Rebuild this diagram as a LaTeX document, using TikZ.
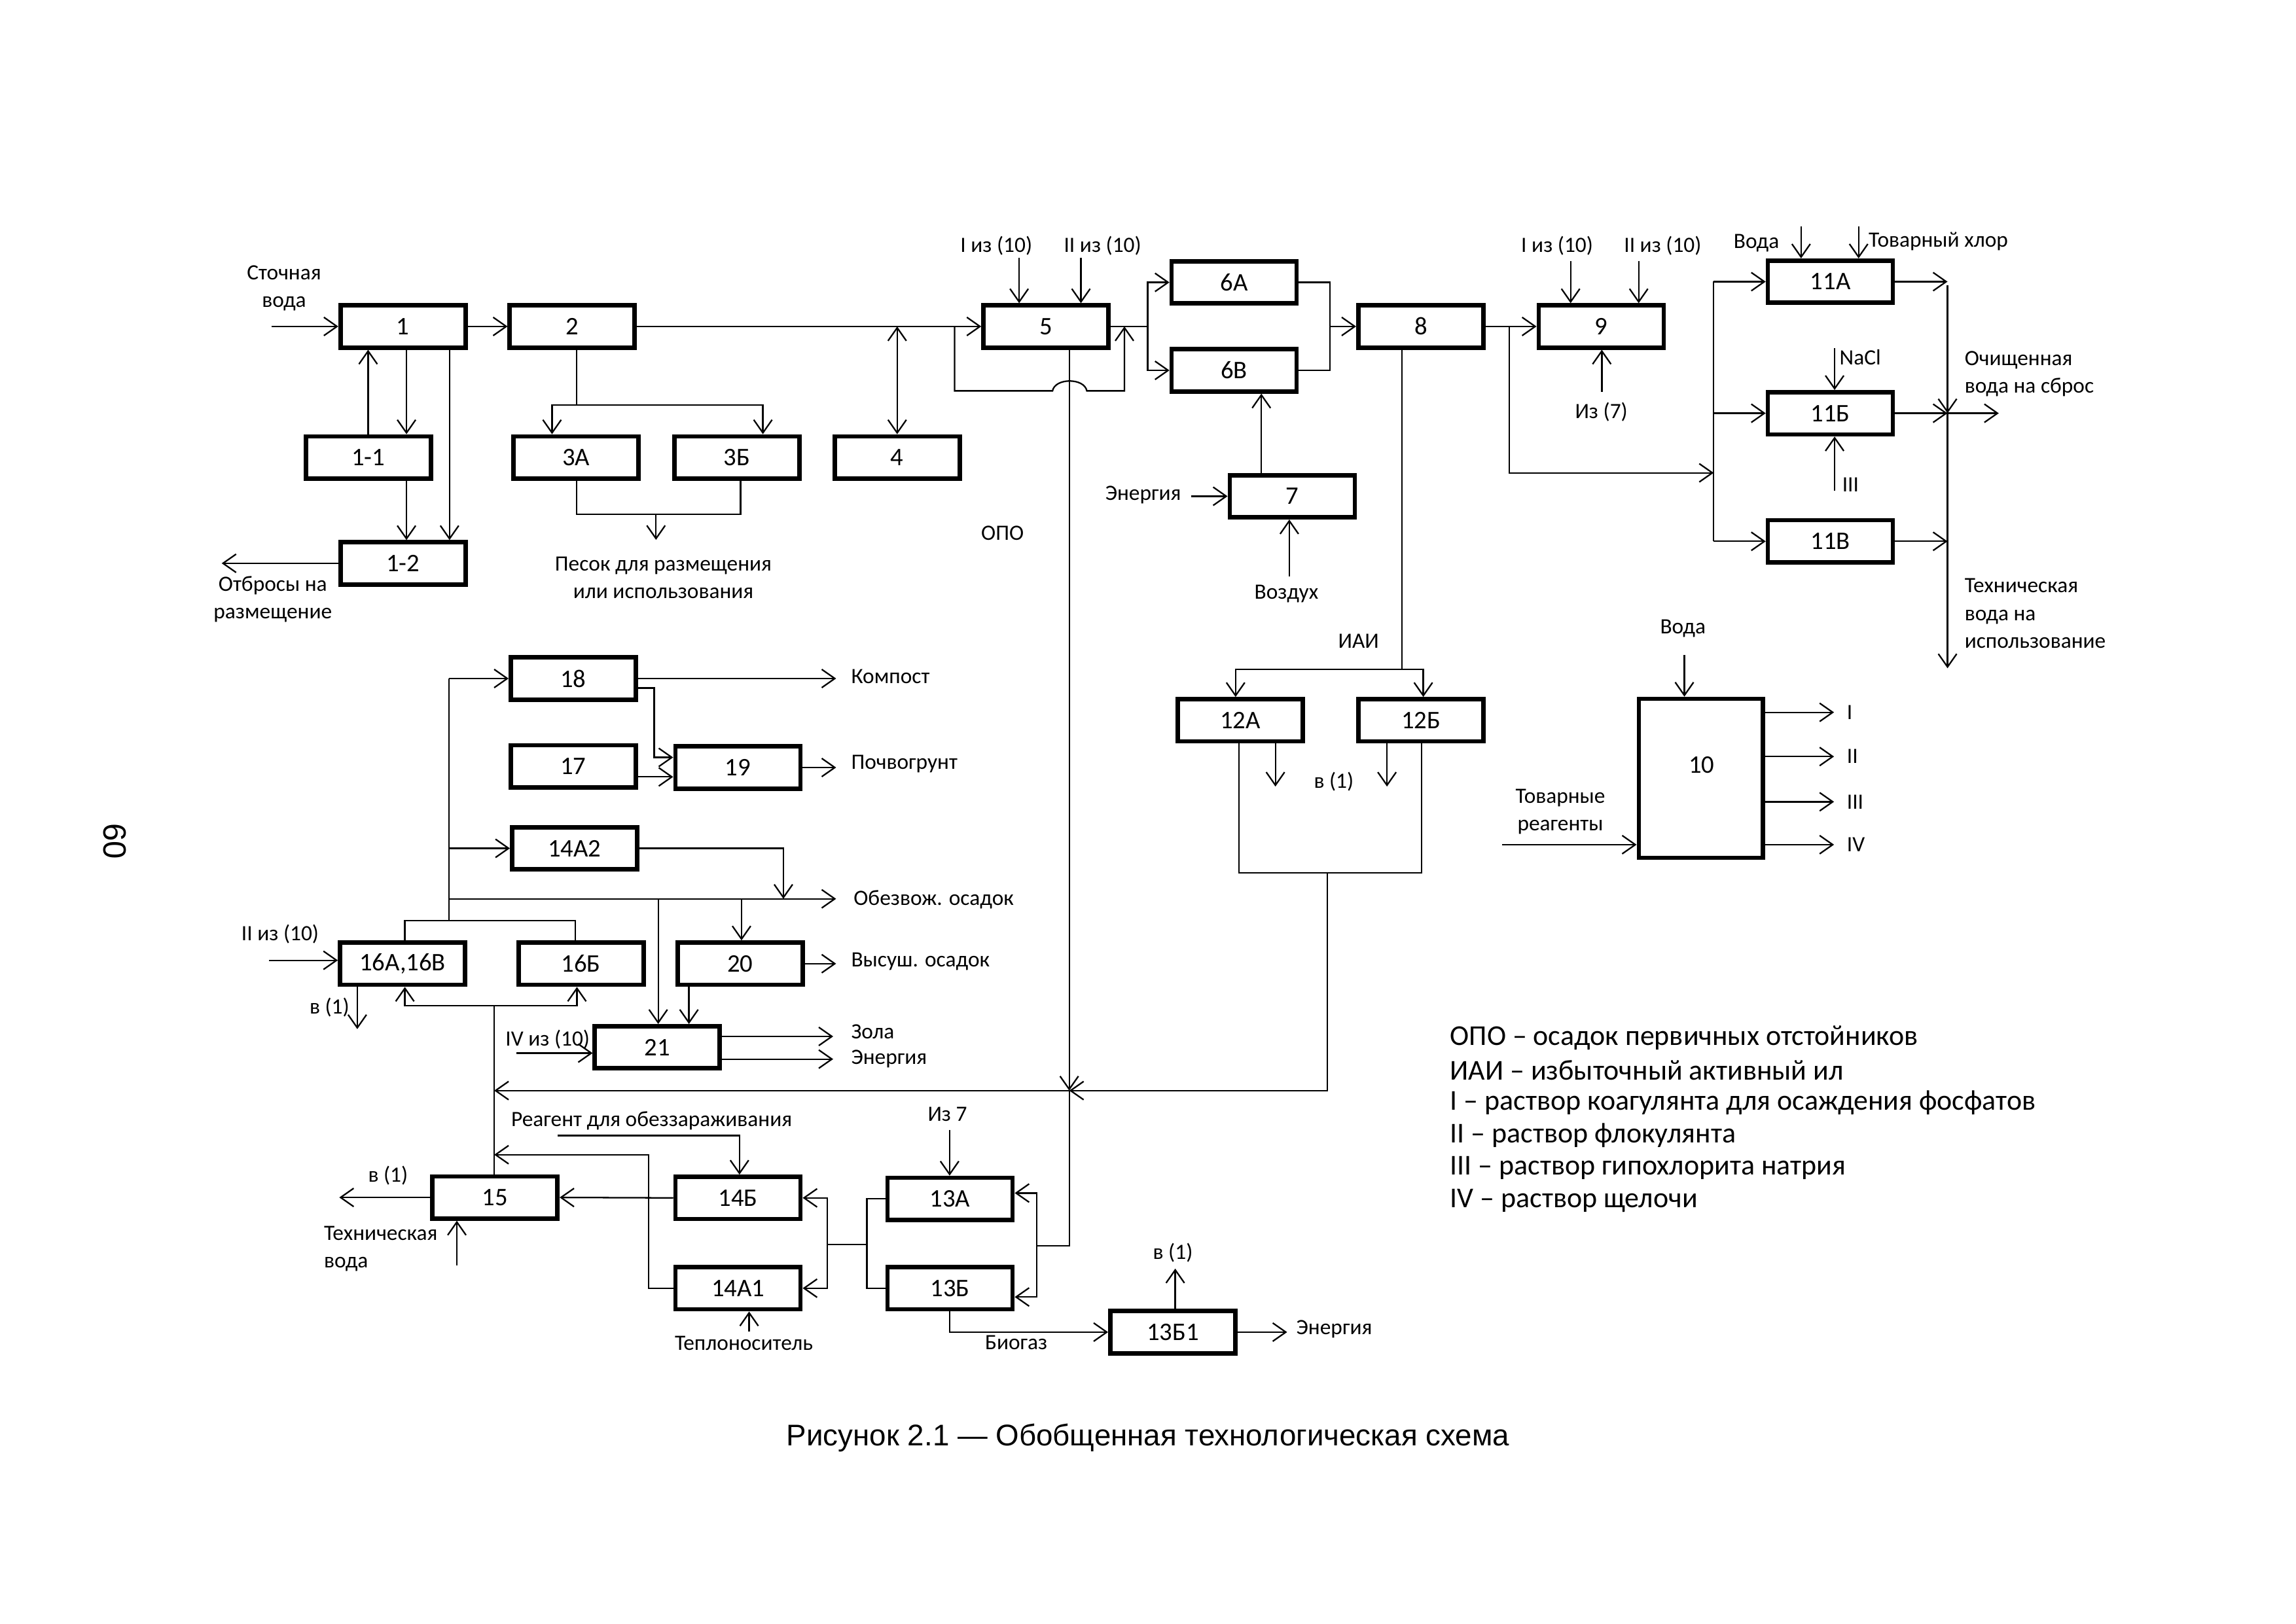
\documentclass[tikz,border=0pt]{standalone}
\usepackage{fontspec}
\setmainfont{Carlito}
\newfontfamily\capfont{Liberation Sans}
\usetikzlibrary{arrows.meta}
\begin{document}
\begin{tikzpicture}[x=0.22372mm,y=-0.22372mm,
  box/.style={draw,line width=1.9pt,minimum width=19.1mm,minimum height=6.45mm,inner sep=0pt,font=\fontsize{11}{13}\selectfont},
  boxtext/.style={inner sep=0pt,font=\fontsize{11}{13}\selectfont},
  ln/.style={line width=0.65pt},
  arr/.style={ln,-{Straight Barb[length=2mm,width=2.8mm]}},
  arrb/.style={ln,{Straight Barb[length=2mm,width=2.8mm]}-{Straight Barb[length=2mm,width=2.8mm]}},
  lbl/.style={inner sep=0pt,font=\fontsize{9.5}{12}\selectfont,align=center},
  lbll/.style={lbl,anchor=west,align=left},
  leg/.style={inner sep=0pt,anchor=west,font=\fontsize{12.5}{14}\selectfont},
]
\fill[white] (0,0) rectangle (1568,1109);
\useasboundingbox (0,0) rectangle (1568,1109);

% ---------- boxes ----------
\node[box] (n1) at (275.2,223) {1};
\node[box] (n2) at (390.8,223) {2};
\node[box] (n11) at (251.5,312.5) {1-1};
\node[box] (n12) at (275.2,384.8) {1-2};
\node[box] (n3a) at (393.4,312.5) {3А};
\node[box] (n3b) at (503.3,312.5) {3Б};
\node[box] (n4) at (612.7,312.5) {4};
\node[box] (n5) at (714.3,223) {5};
\node[box] (n6a) at (842.8,192.9) {6А};
\node[box] (n6b) at (842.8,253) {6В};
\node[box] (n7) at (882.5,339) {7};
\node[box] (n8) at (970.3,223) {8};
\node[box] (n9) at (1093.5,223) {9};
\node[box] (n11a) at (1250,192.4) {11А};
\node[box] (n11b) at (1250,282.3) {11Б};
\node[box] (n11v) at (1250,369.8) {11В};
\node[box,minimum height=24.3mm,minimum width=18.95mm] (n10) at (1161.5,531.7) {};
\node[boxtext] (t10) at (1162,522.7) {10};
\node[box] (n12a) at (847,492) {12А};
\node[box] (n12b) at (970.5,492) {12Б};
\node[box] (n18) at (391.5,463.5) {18};
\node[box] (n17) at (391.5,523.5) {17};
\node[box] (n19) at (503.9,524.3) {19};
\node[box] (n14a2) at (392.4,579.5) {14А2};
\node[box] (n16av) at (274.9,658.3) {16А,16В};
\node[box] (n16b) at (396.8,658.3) {16Б};
\node[box] (n20) at (505.5,658.3) {20};
\node[box] (n21) at (448.9,715.4) {21};
\node[box] (n15) at (338,818) {15};
\node[box] (n14b) at (504,818.3) {14Б};
\node[box] (n14a1) at (504,880) {14А1};
\node[box] (n13a) at (648.8,819) {13А};
\node[box] (n13b) at (648.8,880) {13Б};
\node[box] (n13b1) at (800.9,910) {13Б1};

% ---------- block 1 ----------
\coordinate (in1) at (185.3,223);
\draw[arr] (in1) -- (n1.west);
\node[lbl] (tin1) at (194,196.8) {Сточная\\вода};
\draw[arr] (n1.east) -- (n2.west);
\draw[arr] (n11.north -| 251.4,0) -- (n1.south -| 251.4,0);
\draw[arr] (n1.south -| 277.6,0) -- (n11.north -| 277.6,0);
\draw[arr] (n1.south -| 307,0) -- (n12.north -| 307,0);
\draw[arr] (n11.south -| 277.6,0) -- (n12.north -| 277.6,0);
\coordinate (out12) at (151.4,384.8);
\draw[arr] (n12.west) -- (out12);
\node[lbl] (t12) at (186.3,409.3) {Отбросы на\\размещение};

% ---------- 2 -> 3 ----------
\coordinate (b2) at (393.7,276.6);
\draw[ln] (n2.south -| b2) -- (b2);
\draw[arr] (b2) -| (n3a.north -| 377,0);
\draw[arr] (b2) -| (n3b.north -| 521,0);
\coordinate (b3) at (448,351.2);
\draw[ln] (n3a.south -| 393.7,0) |- (b3);
\draw[ln] (n3b.south -| 505.8,0) |- (b3);
\coordinate (sand) at (448,368.8);
\draw[arr] (b3) -- (sand);
\node[lbl] (tsand) at (453,394.5) {Песок для размещения\\или использования};

% ---------- 2 -> 5, 4, bypass ----------
\draw[arr] (n2.east) -- (n5.west);
\coordinate (j4) at (612.7,223);
\draw[arrb] (j4) -- (n4.north);
\coordinate (bp1) at (651.9,223);
\coordinate (bp2) at (767.9,223);
\draw[arr] (bp1) -- (651.9,267) -- (718.8,267) .. controls (720.5,258) and (740.5,258) .. (742.2,267) -- (767.9,267) -- (bp2);
\draw[arr] (696,176.2) -- (n5.north -| 696,0);
\draw[arr] (738.2,176.2) -- (n5.north -| 738.2,0);
\node[lbl] at (680.4,167.9) {I из (10)};
\node[lbl] at (753,167.9) {II из (10)};

% ---------- 5 -> 6 -> 8 ----------
\coordinate (j5) at (783.8,223);
\draw[ln] (n5.east) -- (j5);
\draw[arr] (j5) |- (n6a.west);
\draw[arr] (j5) |- (n6b.west);
\coordinate (j6) at (908.4,223);
\draw[ln] (n6a.east) -| (j6);
\draw[ln] (n6b.east) -| (j6);
\draw[arr] (j6) -- (n8.west);

% ---------- 7 ----------
\draw[arr] (n7.north -| 861.4,0) -- (n6b.south -| 861.4,0);
\coordinate (en7) at (813.5,339);
\draw[arr] (en7) -- (n7.west);
\node[lbl] at (780.7,338) {Энергия};
\coordinate (air7) at (880.5,393.8);
\draw[arr] (air7) -- (n7.south -| air7);
\node[lbl] at (878.5,405.8) {Воздух};

% ---------- ОПО ----------
\node[lbl] at (684.6,364) {ОПО};
\coordinate (jo) at (730.2,745);
\draw[arr] (n5.south -| jo) -- (jo);
\coordinate (b13r) at (708,851);
\draw[ln] (jo) -- (730.2,851) -- (b13r);
\draw[arr] (b13r) |- (n13a.east |- 0,815);
\draw[arr] (b13r) |- (n13b.east |- 0,886);

% ---------- 8 -> 12 ----------
\coordinate (j8) at (957.4,457.3);
\draw[ln] (n8.south -| j8) -- (j8);
\draw[arr] (j8) -| (n12a.north -| 843.8,0);
\draw[arr] (j8) -| (n12b.north -| 972,0);
\node[lbl] at (927.8,437.9) {ИАИ};
\coordinate (j12) at (906.5,596.3);
\draw[ln] (n12a.south -| 846,0) |- (j12);
\draw[ln] (n12b.south -| 970.8,0) |- (j12);
\draw[arr] (n12a.south -| 871,0) -- (871,537.3);
\draw[arr] (n12b.south -| 947.2,0) -- (947.2,537.3);
\node[lbl] at (910.9,534) {в (1)};
\coordinate (j12b) at (906.5,745);
\draw[arr] (j12) -- (j12b) -- (jo);
\coordinate (jl) at (337.5,745);
\draw[arr] (jo) -- (jl);

% ---------- 8 -> 9 -> 11 ----------
\draw[arr] (n8.east) -- (n9.west);
\draw[arr] (1072.6,178.3) -- (n9.north -| 1072.6,0);
\draw[arr] (1119.1,178.3) -- (n9.north -| 1119.1,0);
\node[lbl] at (1063.4,168) {I из (10)};
\node[lbl] at (1135.5,168) {II из (10)};
\draw[arr] (1093.9,267.6) -- (n9.south -| 1093.9,0);
\node[lbl] at (1093.6,281.4) {Из (7)};
\coordinate (j89) at (1030.6,223);
\draw[arr] (j89) |- (1170.3,323);
\draw[ln] (n11a.west -| 1170.3,0) -- (n11v.west -| 1170.3,0);
\draw[arr] (n11a.west -| 1170.3,0) -- (n11a.west);
\draw[arr] (n11b.west -| 1170.3,0) -- (n11b.west);
\draw[arr] (n11v.west -| 1170.3,0) -- (n11v.west);
\draw[arr] (1230,154.7) -- (n11a.north -| 1230,0);
\draw[arr] (1269.3,154.7) -- (n11a.north -| 1269.3,0);
\node[lbl] at (1199.5,166) {Вода};
\node[lbll] at (1275.9,165) {Товарный хлор};
\draw[arr] (1252.9,237.8) -- (n11b.north -| 1252.9,0);
\node[lbll] at (1256,244) {NaCl};
\draw[arr] (1252.9,335.4) -- (n11b.south -| 1252.9,0);
\node[lbll] at (1257.8,331.3) {III};
\coordinate (ja) at (1330,192.4);
\coordinate (jb) at (1330,282.3);
\coordinate (jv) at (1330,369.8);
\draw[arr] (n11a.east) -- (ja);
\draw[arr] (n11b.east) -- (jb);
\draw[arr] (n11v.east) -- (jv);
\draw[arr] (jb) -- (1365,282.3);
\draw[arr] (1330,194.7) -- (1330,456.5);
\draw[arr] (1330,268) -- (jb);
\node[lbll] at (1341.4,255.5) {Очищенная\\вода на сброс};
\node[lbll] at (1341.4,419) {Техническая\\вода на\\использование};

% ---------- 10 ----------
\node[lbl] at (1149.3,429.2) {Вода};
\draw[arr] (1150.3,447.6) -- (n10.north -| 1150.3,0);
\draw[arr] (n10.east |- 0,486.6) -- (1252.5,486.6);
\draw[arr] (n10.east |- 0,516.8) -- (1252.5,516.8);
\draw[arr] (n10.east |- 0,547.7) -- (1252.5,547.7);
\draw[arr] (n10.east |- 0,577) -- (1252.5,577);
\node[lbll] at (1261,486.6) {I};
\node[lbll] at (1261,516.8) {II};
\node[lbll] at (1261,547.7) {III};
\node[lbll] at (1261,577) {IV};
\node[lbl] at (1065.6,554.4) {Товарные\\реагенты};
\draw[arr] (1025.8,577) -- (n10.west |- 0,577);

% ---------- left middle ----------
\coordinate (tb) at (306.7,629);
\draw[ln] (n16av.north -| 276.5,0) -- (276.5,629) -- (393,629) -- (n16b.north -| 393,0);
\draw[ln] (tb) -- (n18.west -| tb);
\draw[arr] (n18.west -| tb) -- (n18.west);
\draw[arr] (n14a2.west -| tb) -- (n14a2.west);
\coordinate (ob) at (571,614);
\draw[arr] (306.7,614) -- (ob);
\node[lbll] at (582.7,614.6) {Обезвож. осадок};
\draw[arr] (n18.east) -- (571,463.5);
\node[lbll] at (581,462) {Компост};
\draw[arr] (n18.east |- 0,470) -- (446.7,470) -- (446.7,517.4) -- (n19.west |- 0,517.4);
\draw[arr] (n17.east |- 0,530.7) -- (n19.west |- 0,530.7);
\draw[arr] (n19.east) -- (571,524.3);
\node[lbll] at (581,522) {Почвогрунт};
\draw[arr] (n14a2.east) -| (535,614);
\draw[arr] (449.5,614) -- (n21.north -| 449.5,0);
\draw[arr] (506.4,614) -- (n20.north -| 506.4,0);
\draw[arr] (n20.east) -- (571,658.3);
\node[lbll] at (581,657) {Высуш. осадок};
\draw[arr] (n20.south -| 470.5,0) -- (n21.north -| 470.5,0);
\draw[arr] (n21.east |- 0,708) -- (569,708);
\draw[arr] (n21.east |- 0,723.5) -- (569,723.5);
\node[lbll] at (581,705) {Зола};
\node[lbll] at (581,723.5) {Энергия};
\node[lbl] at (374,710) {IV из (10)};
\draw[arr] (352.6,719.4) -- (n21.west |- 0,719.4);

% ---------- 16 ----------
\node[lbl] at (191.3,638) {II из (10)};
\draw[arr] (183.7,656) -- (n16av.west |- 0,656);
\node[lbl] at (225,688.3) {в (1)};
\draw[arr] (n16av.south -| 244,0) -- (244,703);
\draw[arr] (337.5,687) -- (276.5,687) -- (n16av.south -| 276.5,0);
\draw[arr] (337.5,687) -- (394,687) -- (n16b.south -| 394,0);
\draw[ln] (n15.north -| 337.5,0) -- (337.5,687);

% ---------- bottom ----------
\draw[arr] (n14b.west) -- (n15.east);
\draw[arr] (n15.west) -- (231.7,818);
\node[lbl] at (265,803) {в (1)};
\node[lbll] at (221,853) {Техническая\\вода};
\draw[arr] (312,864.4) -- (n15.south -| 312,0);
\draw[arr] (381,775.7) -- (505,775.7) -- (n14b.north -| 505,0);
\node[lbl] at (445,765.5) {Реагент для обеззараживания};
\draw[arr] (n14a1.west) -- (443,880) -- (443,788.8) -- (337.5,788.8);
\node[lbl] at (508,917.7) {Теплоноситель};
\draw[arr] (511.6,909.7) -- (n14a1.south -| 511.6,0);
\draw[ln] (n13a.west) -- (592,819) -- (592,880) -- (n13b.west);
\draw[ln] (592,850) -- (565,850);
\draw[arr] (565,850) |- (n14b.east);
\draw[arr] (565,850) |- (n14a1.east);
\node[lbl] at (647,761) {Из 7};
\draw[arr] (648.5,772) -- (n13a.north -| 648.5,0);
\draw[arr] (n13b.south -| 648.5,0) |- (n13b1.west);
\node[lbl] at (694,917) {Биогаз};
\draw[arr] (n13b1.north -| 802.6,0) -- (802.6,866.6);
\node[lbl] at (801,855.6) {в (1)};
\draw[arr] (n13b1.east) -- (879,910);
\node[lbll] at (885,908) {Энергия};

% ---------- legend ----------
\node[leg] at (990,709) {ОПО – осадок первичных отстойников};
\node[leg] at (990,731.2) {ИАИ – избыточный активный ил};
\node[leg] at (990,753.4) {I – раствор коагулянта для осаждения фосфатов};
\node[leg] at (990,775.6) {II – раствор флокулянта};
\node[leg] at (990,797.8) {III – раствор гипохлорита натрия};
\node[leg] at (990,820) {IV – раствор щелочи};

% ---------- caption and page number ----------
\node[inner sep=0pt,font=\capfont\fontsize{13}{15}\selectfont] at (784,982) {Рисунок 2.1 — Обобщенная технологическая схема};
\node[inner sep=0pt,font=\capfont\fontsize{14}{16}\selectfont,rotate=-90] at (78.6,574.7) {60};
\end{tikzpicture}
\end{document}
